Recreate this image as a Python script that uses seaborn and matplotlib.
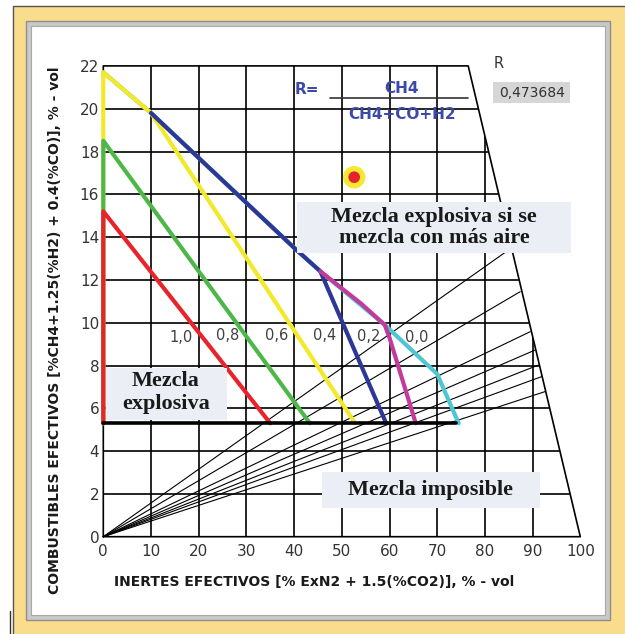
import numpy as np
import pandas as pd
import matplotlib
matplotlib.use("Agg")
import matplotlib.pyplot as plt
import seaborn as sns
from matplotlib.patches import Polygon, Rectangle
from matplotlib.lines import Line2D

sns.set_style("white")
plt.rcParams["font.family"] = ["DejaVu Sans"]

# Valid region of the diagram (inerts vs combustibles)
region_x = [0, 0, 76.5, 100]
region_y = [0, 22, 22, 0]

# Explosive limit curves for each R = CH4 / (CH4+CO+H2)
r_labels = ["1,0", "0,8", "0,6", "0,4", "0,2", "0,0"]
r_label_x = [16.4, 26.0, 36.4, 46.5, 55.6, 65.7]
r_label_y = [9.3, 9.4, 9.4, 9.4, 9.35, 9.3]

red_x = [0, 0, 35.0]
red_y = [5.3, 15.2, 5.3]
green_x = [0, 0, 43.3]
green_y = [5.3, 18.5, 5.3]
yellow_x = [0, 0, 10, 52.8]
yellow_y = [5.3, 21.7, 19.8, 5.3]
blue_x = [10, 20, 40, 45.5, 59.3]
blue_y = [19.8, 17.7, 13.5, 12.4, 5.3]
magenta_x = [45.5, 54, 59, 60, 65.5]
magenta_y = [12.4, 10.9, 9.9, 9.3, 5.3]
cyan_x = [0, 10, 40, 45.5, 59, 70, 74.5]
cyan_y = [21.7, 19.8, 13.5, 12.4, 9.9, 7.6, 5.3]

# lower flammability line
base_x = [0, 74]
base_y = [5.3, 5.3]

# mixing lines from the origin
fan_end_x = [85.6, 87.4, 89.5, 90.5, 91.2, 91.9, 92.6]
fan_end_y = [13.5, 11.45, 9.58, 8.72, 8.02, 7.48, 6.78]

# current mixture point
point_x = [52.6]
point_y = [16.8]
r_value = "0,473684"

xticks = list(range(0, 101, 10))
yticks = list(range(0, 23, 2))

W, H = 625, 634
fig = plt.figure(figsize=(W / 100, H / 100), dpi=100)
fig.patch.set_facecolor("white")


def fx(px):
    return px / W


def fy(py):
    return 1 - py / H


# window-like frame (kept behind the axes)
fig.patches.append(Rectangle((fx(13), 0), 1 - fx(13), fy(6), transform=fig.transFigure,
                             facecolor="#f9dc8c", edgecolor="none", zorder=-5))
fig.lines.append(Line2D([fx(13), fx(13)], [0, fy(6)], transform=fig.transFigure, color="#555555", lw=1,
                        zorder=-4))
fig.lines.append(Line2D([fx(13), 1], [fy(6), fy(6)], transform=fig.transFigure, color="#555555", lw=1,
                        zorder=-4))
fig.patches.append(Rectangle((fx(26), fy(620)), fx(610) - fx(26), fy(21) - fy(620), transform=fig.transFigure,
                             facecolor="#c9c9c9", edgecolor="#8f8f8f", lw=1, zorder=-3))
fig.patches.append(Rectangle((fx(31), fy(615)), fx(605) - fx(31), fy(26) - fy(615), transform=fig.transFigure,
                             facecolor="white", edgecolor="#a8a8a8", lw=0.8, zorder=-2))
fig.lines.append(Line2D([fx(10), fx(10)], [0, fy(611)], transform=fig.transFigure, color="#333333", lw=1,
                        zorder=-1))

ax = fig.add_axes([fx(103.3), fy(536.7), fx(580.3) - fx(103.3), fy(65.9) - fy(536.7)])
ax.set_facecolor("none")
ax.set_xlim(0, 100)
ax.set_ylim(0, 22)
for s in ax.spines.values():
    s.set_visible(False)

region = Polygon(np.column_stack([region_x, region_y]), closed=True, transform=ax.transData,
                 facecolor="none", edgecolor="none")
ax.add_patch(region)

# grid clipped to the region
for x in xticks[1:-1]:
    ln = ax.axvline(x, color="black", lw=1.2, zorder=1)
    ln.set_clip_path(region)
for y in yticks[1:-1]:
    ln = ax.axhline(y, color="black", lw=1.2, zorder=1)
    ln.set_clip_path(region)
ax.plot(region_x + [region_x[0]], region_y + [region_y[0]], color="black", lw=1.2, zorder=1, clip_on=False)

for ex, ey in zip(fan_end_x, fan_end_y):
    sns.lineplot(x=[0, ex], y=[0, ey], color="black", lw=0.8, sort=False, ax=ax, zorder=2)

curves = [
    (cyan_x, cyan_y, "#4ec6d3"),
    (yellow_x, yellow_y, "#f3e82a"),
    (green_x, green_y, "#4db849"),
    (red_x, red_y, "#e8232b"),
    (blue_x, blue_y, "#2d3796"),
    (magenta_x, magenta_y, "#c23a9c"),
]
for cx, cy, col in curves:
    sns.lineplot(x=cx, y=cy, color=col, lw=3.0, sort=False, estimator=None, ax=ax, zorder=3,
                 clip_on=False)

sns.lineplot(x=base_x, y=base_y, color="black", lw=2.6, sort=False, ax=ax, zorder=3.5, clip_on=False)

for lab, lx, ly in zip(r_labels, r_label_x, r_label_y):
    ax.text(lx, ly, lab, ha="center", va="center", fontsize=10.5, color="#404040", zorder=5)

sns.scatterplot(x=point_x, y=point_y, s=260, color="#f6e833", edgecolor="none", ax=ax, zorder=6)
sns.scatterplot(x=point_x, y=point_y, s=70, color="#e5232a", edgecolor="none", ax=ax, zorder=7)

# text boxes
boxes = [
    (40.6, 13.27, 98.0, 15.63, 69.4, 14.45, "Mezcla explosiva si se\nmezcla con más aire", 1.1),
    (0.6, 5.45, 25.9, 7.87, 13.1, 6.72, "Mezcla\nexplosiva", 1.2),
    (45.8, 1.33, 91.6, 3.04, 68.5, 2.18, "Mezcla imposible", 1.0),
]
for x0, y0, x1, y1, tx, ty, txt, lsp in boxes:
    ax.add_patch(Rectangle((x0, y0), x1 - x0, y1 - y0, facecolor="#ebeff5", edgecolor="none", zorder=8,
                           clip_on=False))
    ax.text(tx, ty, txt, ha="center", va="center", fontsize=16, fontweight="bold",
            family="Liberation Serif", color="#1a1a1a", linespacing=lsp, zorder=9)

# ratio formula
blue_txt = "#3b4aa8"
ax.text(42.7, 20.9, "R=", ha="center", va="center", fontsize=11, fontweight="bold", color=blue_txt, zorder=9)
ax.text(62.6, 20.95, "CH4", ha="center", va="center", fontsize=11, fontweight="bold", color=blue_txt, zorder=9)
ax.text(62.6, 19.75, "CH4+CO+H2", ha="center", va="center", fontsize=11, fontweight="bold", color=blue_txt, zorder=9)
ax.plot([47.5, 76.5], [20.5, 20.5], color="#333333", lw=1.2, zorder=9)

ax.text(82.8, 22.1, "R", ha="center", va="center", fontsize=10.5, color="#333333", clip_on=False)
ax.add_patch(Rectangle((81.7, 20.25), 16.2, 1.01, facecolor="#d6d6d6", edgecolor="none", zorder=8,
                       clip_on=False))
ax.text(89.8, 20.75, r_value, ha="center", va="center", fontsize=10, color="#333333", zorder=9)

ax.set_xticks(xticks)
ax.set_yticks(yticks)
ax.tick_params(axis="both", length=0, labelsize=11, labelcolor="#333333")
ax.tick_params(axis="x", pad=5)
ax.tick_params(axis="y", pad=3)

fig.text(fx(314), fy(582), "INERTES EFECTIVOS [% ExN2 + 1.5(%CO2)], % - vol", ha="center", va="center",
         fontsize=10, fontweight="bold", color="#1a1a1a")
fig.text(fx(55), fy(330), "COMBUSTIBLES EFECTIVOS [%CH4+1.25(%H2) + 0.4(%CO)], % - vol", ha="center",
         va="center", rotation=90, fontsize=10, fontweight="bold", color="#1a1a1a")

fig.savefig("out.png", dpi=100)
